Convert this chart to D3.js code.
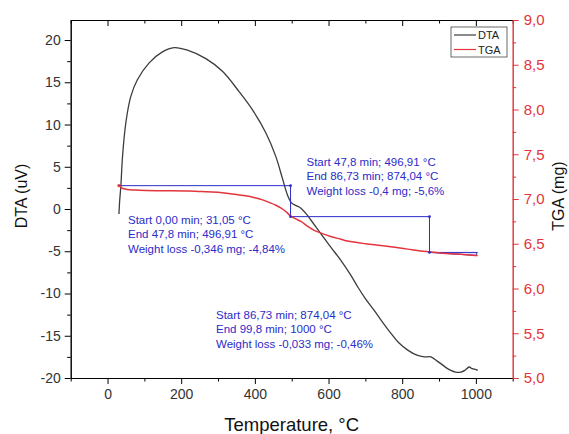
<!DOCTYPE html>
<html>
<head>
<meta charset="utf-8">
<script src="https://cdn.jsdelivr.net/npm/d3@7"></script>
<style>
  body { margin: 0; background: #fff; }
  svg { font-family: "Liberation Sans", Arial, sans-serif; }
</style>
</head>
<body>
<svg id="chart" width="569" height="434"></svg>
<script>
'use strict';

// DTA curve (temperature in °C, signal in uV)
const dtaTemp = [31, 33, 36, 41, 50, 63, 81, 113, 149, 181, 217, 267, 312, 357, 394, 430, 457, 475, 489, 500,
  512, 525, 540, 552, 579, 606, 634, 660, 679, 700, 724, 745, 769, 790, 815, 840, 860, 878, 895, 905,
  920, 932, 945, 959, 970, 982, 990, 1000, 1005];
const dtaValue = [-0.6, 1.0, 2.6, 6.4, 10.3, 13.3, 15.3, 17.3, 18.6, 19.1, 18.8, 17.8, 16.3, 13.9, 11.7, 9.0, 6.2, 3.6, 1.6, 0.7,
  0.4, 0.1, -0.6, -1.3, -2.9, -4.5, -6.1, -7.8, -9.2, -10.6, -12.0, -13.3, -14.7, -15.8, -16.7, -17.3, -17.5, -17.5, -18.0, -18.3,
  -18.8, -19.1, -19.3, -19.3, -19.1, -18.7, -18.9, -19.0, -19.1];

// TGA curve (temperature in °C, mass in mg)
const tgaTemp = [31, 40, 50, 75, 104, 150, 222, 270, 312, 350, 375, 400, 421, 440, 457, 470, 484, 497, 510, 525,
  545, 561, 585, 606, 634, 652, 700, 742, 780, 815, 850, 874, 910, 950, 1000, 1005];
const tgaValue = [7.15, 7.12, 7.11, 7.10, 7.095, 7.093, 7.09, 7.08, 7.07, 7.05, 7.037, 7.015, 6.99, 6.96, 6.93, 6.90, 6.86, 6.81, 6.78, 6.75,
  6.69, 6.65, 6.61, 6.58, 6.55, 6.53, 6.50, 6.48, 6.46, 6.44, 6.42, 6.41, 6.395, 6.385, 6.37, 6.37];

// weight loss steps
const stepTemp = [31.05, 496.91, 874.04, 1000];
const stepMass = [7.149, 6.803, 6.403, 6.370];

const note1 = ["Start 0,00 min; 31,05 °C", "End 47,8 min; 496,91 °C", "Weight loss -0,346 mg; -4,84%"];
const note2 = ["Start 47,8 min; 496,91 °C", "End 86,73 min; 874,04 °C", "Weight loss -0,4 mg; -5,6%"];
const note3 = ["Start 86,73 min; 874,04 °C", "End 99,8 min; 1000 °C", "Weight loss -0,033 mg; -0,46%"];

const xTicks = [0, 200, 400, 600, 800, 1000];
const xMinor = [-100, 100, 300, 500, 700, 900, 1100];
const dtaTicks = [-20, -15, -10, -5, 0, 5, 10, 15, 20];
const dtaMinor = [-17.5, -12.5, -7.5, -2.5, 2.5, 7.5, 12.5, 17.5];
const tgaTicks = [5, 5.5, 6, 6.5, 7, 7.5, 8, 8.5, 9];
const tgaMinor = [5.25, 5.75, 6.25, 6.75, 7.25, 7.75, 8.25, 8.75];

const legendNames = ["DTA", "TGA"];

const red = "#e4343c";
const blue = "#2c2cc8";
const dark = "#3c3c3c";

const plotLeft = 70.7, plotRight = 512.7, plotTop = 20, plotBottom = 378;

const x = d3.scaleLinear().domain([-100, 1100]).range([plotLeft, plotRight]);
const yL = d3.scaleLinear().domain([-20, 22.37]).range([plotBottom, plotTop]);
const yR = d3.scaleLinear().domain([5, 9]).range([plotBottom, plotTop]);

const svg = d3.select("#chart");

// curves
const dtaLine = d3.line()
  .x(function(d, i) { return x(dtaTemp[i]); })
  .y(function(d) { return yL(d); })
  .curve(d3.curveCatmullRom);
const tgaLine = d3.line()
  .x(function(d, i) { return x(tgaTemp[i]); })
  .y(function(d) { return yR(d); })
  .curve(d3.curveCatmullRom);

svg.append("path")
  .attr("d", dtaLine(dtaValue))
  .attr("fill", "none")
  .attr("stroke", dark)
  .attr("stroke-width", 1.3);

// step lines (blue)
let stepPts = [[stepTemp[0], stepMass[0]]];
for (let i = 1; i < 3; i++) {
  stepPts.push([stepTemp[i], stepMass[i - 1]]);
  stepPts.push([stepTemp[i], stepMass[i]]);
}
const stepLine = d3.line()
  .x(function(d) { return x(d[0]); })
  .y(function(d) { return yR(d[1]); });

svg.append("path")
  .attr("d", stepLine(stepPts))
  .attr("fill", "none")
  .attr("stroke", blue)
  .attr("stroke-width", 1);

// last small wedge
svg.append("path")
  .attr("d", stepLine([[stepTemp[2], stepMass[2]], [stepTemp[3] + 4, stepMass[2]], [stepTemp[3], stepMass[3]]]) + "Z")
  .attr("fill", "#e2e2f6")
  .attr("stroke", blue)
  .attr("stroke-width", 1);

svg.append("path")
  .attr("d", tgaLine(tgaValue))
  .attr("fill", "none")
  .attr("stroke", red)
  .attr("stroke-width", 1.5);

svg.selectAll(".stepdot")
  .data(stepPts.slice(1))
  .enter().append("circle")
    .attr("class", "stepdot")
    .attr("cx", function(d) { return x(d[0]); })
    .attr("cy", function(d) { return yR(d[1]); })
    .attr("r", 1.4)
    .attr("fill", blue);

svg.append("circle")
  .attr("cx", x(tgaTemp[0]))
  .attr("cy", yR(tgaValue[0]))
  .attr("r", 1.6)
  .attr("fill", red);

// annotations
function note(lines, px, py) {
  const t = svg.append("text")
    .attr("fill", blue)
    .attr("font-size", 11.5);
  t.selectAll("tspan")
    .data(lines)
    .enter().append("tspan")
      .attr("x", px)
      .attr("y", function(d, i) { return py + i * 14.6; })
      .text(function(d) { return d; });
}
note(note1, 128, 223.5);
note(note2, 306.5, 165.5);
note(note3, 216, 318.5);

// axes
function styleAxis(g, color, fs) {
  g.select(".domain").attr("stroke", color).attr("stroke-width", 1);
  g.selectAll(".tick line").attr("stroke", color);
  g.selectAll(".tick text").attr("fill", color === "#000" ? "#333" : color)
    .attr("font-size", fs).attr("font-family", null);
}

// plain hyphen minus, like the original
const plain = function(d) { return String(d); };
const comma = function(d) { return d.toFixed(1).replace(".", ","); };

const gx = svg.append("g").attr("transform", "translate(0," + plotBottom + ")")
  .call(d3.axisBottom(x).tickValues(xTicks).tickSize(6).tickSizeOuter(0).tickPadding(5).tickFormat(plain));
styleAxis(gx, "#000", 14);
const gxm = svg.append("g").attr("transform", "translate(0," + plotBottom + ")")
  .call(d3.axisBottom(x).tickValues(xMinor).tickSize(3.5).tickSizeOuter(0).tickFormat(""));
styleAxis(gxm, "#000", 14);

const gt = svg.append("g").attr("transform", "translate(0," + plotTop + ")")
  .call(d3.axisBottom(x).tickValues(xTicks).tickSize(6).tickSizeOuter(0).tickFormat(""));
styleAxis(gt, "#000", 14);
const gtm = svg.append("g").attr("transform", "translate(0," + plotTop + ")")
  .call(d3.axisBottom(x).tickValues(xMinor).tickSize(3.5).tickSizeOuter(0).tickFormat(""));
styleAxis(gtm, "#000", 14);

const gl = svg.append("g").attr("transform", "translate(" + plotLeft + ",0)")
  .call(d3.axisLeft(yL).tickValues(dtaTicks).tickSize(6).tickSizeOuter(0).tickPadding(4).tickFormat(plain));
styleAxis(gl, "#000", 14);
const glm = svg.append("g").attr("transform", "translate(" + plotLeft + ",0)")
  .call(d3.axisLeft(yL).tickValues(dtaMinor).tickSize(3.5).tickSizeOuter(0).tickFormat(""));
styleAxis(glm, "#000", 14);

const gr = svg.append("g").attr("transform", "translate(" + plotRight + ",0)")
  .call(d3.axisRight(yR).tickValues(tgaTicks).tickSize(6).tickSizeOuter(0).tickPadding(5).tickFormat(comma));
styleAxis(gr, red, 15);
const grm = svg.append("g").attr("transform", "translate(" + plotRight + ",0)")
  .call(d3.axisRight(yR).tickValues(tgaMinor).tickSize(3.5).tickSizeOuter(0).tickFormat(""));
styleAxis(grm, red, 15);

// axis titles
svg.append("text")
  .attr("transform", "translate(27,196)rotate(-90)")
  .attr("text-anchor", "middle")
  .attr("font-size", 16)
  .attr("fill", "#111")
  .text("DTA (uV)");
svg.append("text")
  .attr("transform", "translate(564,196)rotate(-90)")
  .attr("text-anchor", "middle")
  .attr("font-size", 16)
  .attr("fill", "#111")
  .text("TGA (mg)");
svg.append("text")
  .attr("x", (plotLeft + plotRight) / 2)
  .attr("y", 431)
  .attr("text-anchor", "middle")
  .attr("font-size", 18.5)
  .attr("fill", "#111")
  .text("Temperature, °C");

// legend
const lg = svg.append("g");
lg.append("rect")
  .attr("x", 451).attr("y", 27).attr("width", 56).attr("height", 30)
  .attr("fill", "#fff").attr("stroke", "#444").attr("stroke-width", 0.8);
lg.selectAll(".item")
  .data(legendNames)
  .enter().append("g")
    .attr("class", "item")
    .attr("transform", function(d, i) { return "translate(0," + (35 + i * 14.5) + ")"; })
    .each(function(d, i) {
      const g = d3.select(this);
      g.append("line").attr("x1", 454).attr("x2", 476)
        .attr("stroke", i === 0 ? dark : red).attr("stroke-width", 1.2);
      g.append("text").attr("x", 478).attr("y", 4)
        .attr("font-size", 11).attr("fill", "#222").text(d);
    });
</script>
</body>
</html>
